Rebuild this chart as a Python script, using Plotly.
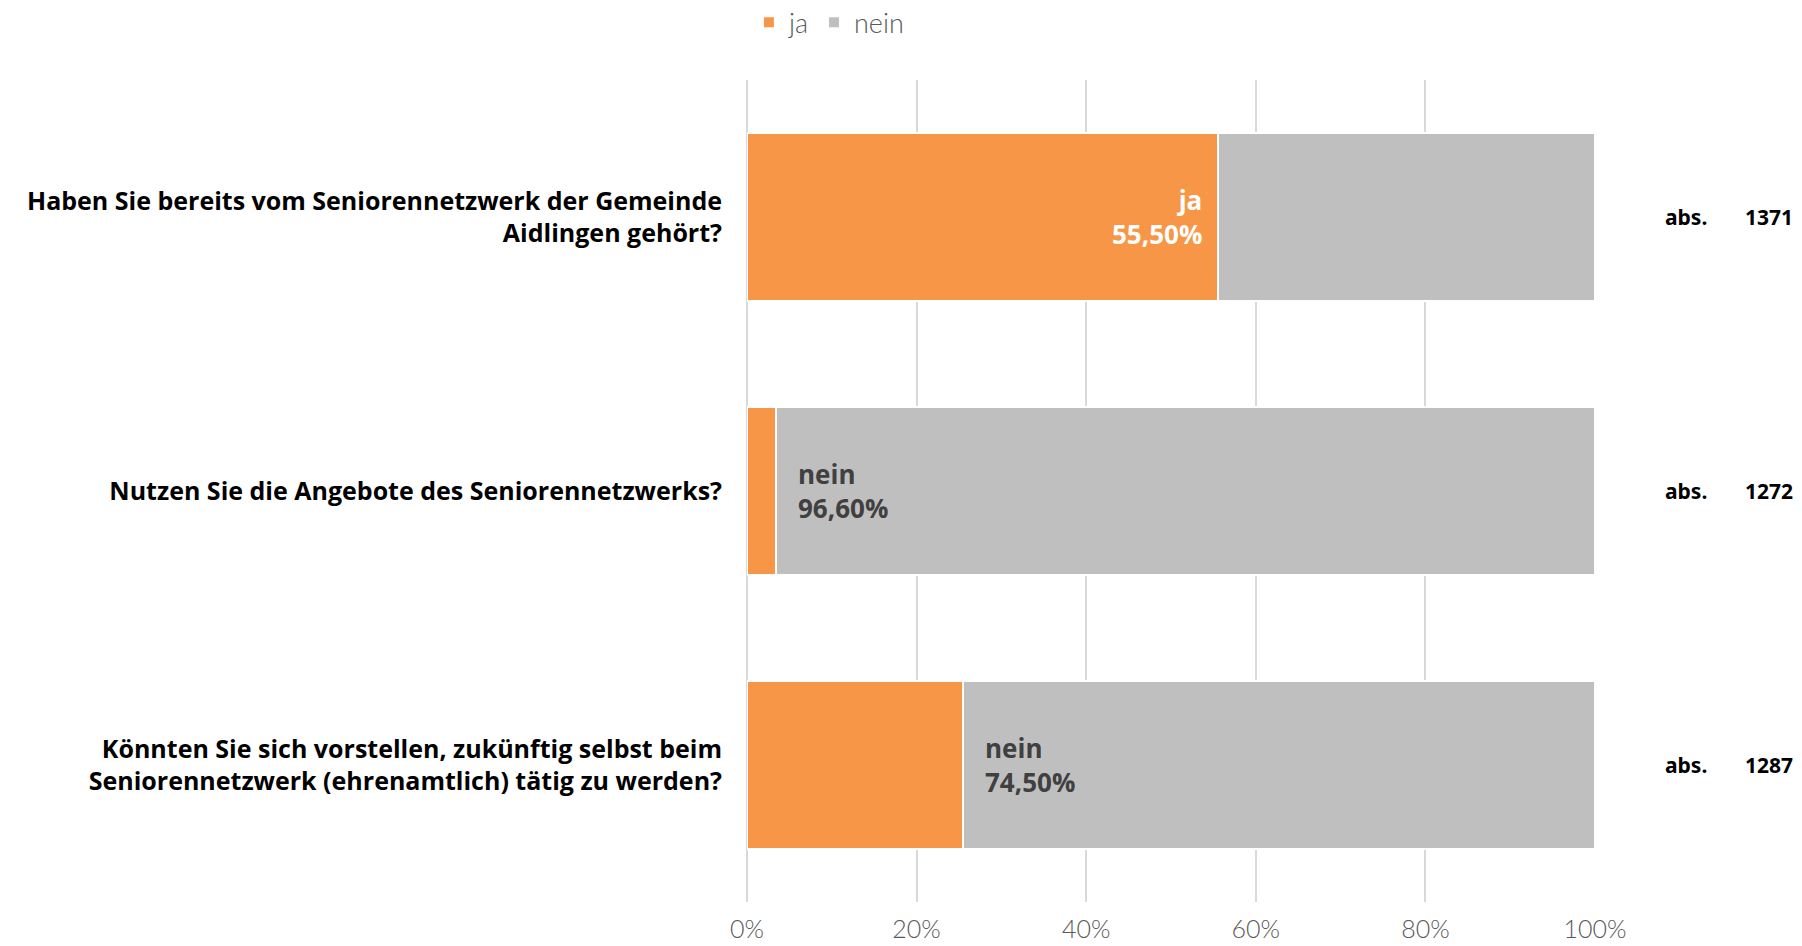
import plotly.graph_objects as go

questions = [
    "Haben Sie bereits vom Seniorennetzwerk der Gemeinde<br>Aidlingen gehört?",
    "Nutzen Sie die Angebote des Seniorennetzwerks?",
    "Könnten Sie sich vorstellen, zukünftig selbst beim<br>Seniorennetzwerk (ehrenamtlich) tätig zu werden?",
]
ja = [55.5, 3.4, 25.5]
nein = [44.5, 96.6, 74.5]
abs_n = [1371, 1272, 1287]
tick_vals = [0, 20, 40, 60, 80, 100]
tick_text = ["0%", "20%", "40%", "60%", "80%", "100%"]

ORANGE = "#F79646"
GREY = "#BFBFBF"
FONT = "Open Sans"
LIGHT = "Lato"

def pct(v):
    return f"{v:.2f}".replace(".", ",") + "%"

fig = go.Figure()
fig.add_trace(go.Bar(
    y=questions, x=ja, name="ja", orientation="h",
    marker=dict(color=ORANGE, line=dict(color="white", width=2)),
))
fig.add_trace(go.Bar(
    y=questions, x=nein, name="nein", orientation="h",
    marker=dict(color=GREY, line=dict(color="white", width=2)),
))

# data labels that are visible in the original
fig.add_annotation(
    x=ja[0], y=questions[0], text="ja<br>" + pct(ja[0]),
    xanchor="right", xshift=-14, align="right", showarrow=False,
    font=dict(family=FONT, size=26, color="white", weight="bold"),
)
for i in (1, 2):
    fig.add_annotation(
        x=ja[i], y=questions[i], text="nein<br>" + pct(nein[i]),
        xanchor="left", xshift=20, align="left", showarrow=False,
        font=dict(family=FONT, size=26, color="#404040", weight="bold"),
    )

# "abs." column on the right
for q, n in zip(questions, abs_n):
    fig.add_annotation(x=1.080, xref="paper", y=q, text="abs.", showarrow=False,
                       xanchor="left", font=dict(family="Noto Sans", size=21, color="black", weight="bold"))
    fig.add_annotation(x=1.236, xref="paper", y=q, text=str(n), showarrow=False,
                       xanchor="right", font=dict(family="Noto Sans", size=21, color="black", weight="bold"))

fig.update_layout(
    barmode="stack",
    bargap=0.39,
    width=1802, height=946,
    margin=dict(l=747, r=207, t=80, b=44),
    plot_bgcolor="white", paper_bgcolor="white",
    font=dict(family=FONT, color="#595959"),
    legend=dict(
        orientation="h", xref="container", x=0.46, xanchor="center",
        yref="container", y=0.976, yanchor="middle",
        font=dict(family=LIGHT, size=27, color="#595959", weight=300),
        traceorder="normal",
    ),
    xaxis=dict(
        range=[0, 100], tickvals=tick_vals, ticktext=tick_text,
        showgrid=True, gridcolor="#D9D9D9", gridwidth=1.5,
        zeroline=True, zerolinecolor="#D9D9D9", zerolinewidth=1.5,
        showline=False, ticks="", automargin=False,
        tickfont=dict(family=LIGHT, size=25, color="#595959", weight=300),
        ticklabelstandoff=10,
    ),
    yaxis=dict(
        autorange="reversed", showgrid=False, ticks="", automargin=False,
        tickfont=dict(family=FONT, size=25, color="black", weight="bold"),
        ticklabelstandoff=24,
    ),
)

fig.write_html("out.html", config={"displayModeBar": False},
               post_script="document.body.style.margin='0';")
